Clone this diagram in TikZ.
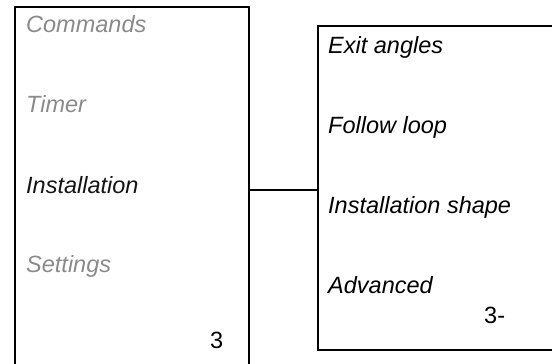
\documentclass[tikz,border=0pt]{standalone}
\usepackage{fontspec}
\setmainfont{Liberation Sans}
\usetikzlibrary{positioning}
\definecolor{menugray}{RGB}{138,138,138}
\definecolor{menuink}{RGB}{20,20,20}

\begin{document}
\begin{tikzpicture}[x=1pt,y=-1pt]
  \tikzstyle{panel}=[draw,line width=2pt,inner sep=0pt,anchor=north west]
  \tikzstyle{item}=[anchor=base west,inner sep=0pt,font=\fontsize{23.5}{28}\selectfont\itshape]
  \tikzstyle{pagenum}=[anchor=base west,inner sep=0pt,font=\fontsize{23.5}{28}\selectfont]
  \useasboundingbox (0,0) rectangle (552,364);
  % main menu, cut off at the bottom
  \node[panel,minimum width=234pt,minimum height=366pt] (menu) at (14,6) {};
  \node[item,text=menugray] (commands) at (26,32) {Commands};
  \node[item,text=menugray] (timer) at (26,112) {Timer};
  \node[item,text=menuink] (install) at (26,193) {Installation};
  \node[item,text=menugray] (settings) at (26,272) {Settings};
  \node[pagenum] (page3) at (210,348) {3};

  % sub menu, cut off on the right
  \node[panel,minimum width=260pt,minimum height=324pt] (submenu) at (317,25) {};
  \node[item] (exitang) at (328,53) {Exit angles};
  \node[item] (follow) at (328,133) {Follow loop};
  \node[item] (shape) at (328,213) {Installation shape};
  \node[item] (advanced) at (328,293) {Advanced};
  \node[pagenum] (page3sub) at (484,323) {3-};

  \draw[line width=2pt] (menu.east) -- (menu.east -| submenu.west);
\end{tikzpicture}
\end{document}
